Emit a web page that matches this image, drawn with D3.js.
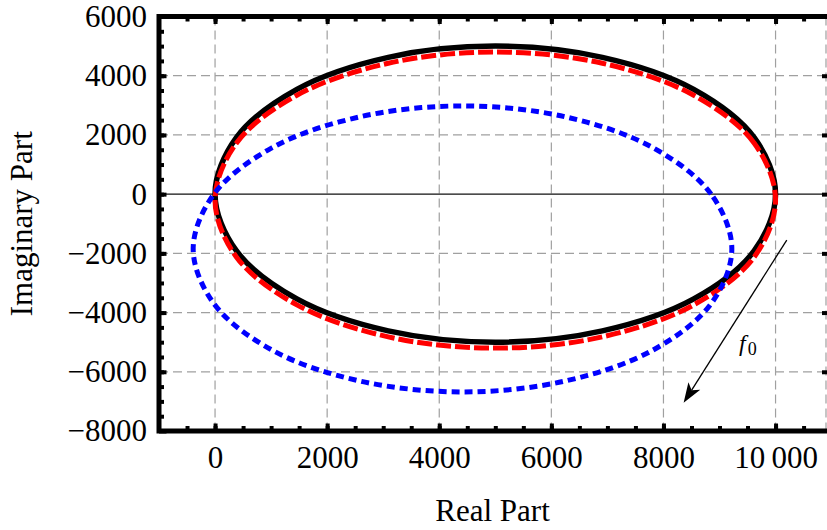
<!DOCTYPE html>
<html>
<head>
<meta charset="utf-8">
<script src="https://cdn.jsdelivr.net/npm/d3@7"></script>
<style>
  body { margin: 0; background: #fff; }
  svg { display: block; font-family: "Liberation Serif", "Times New Roman", serif; }
</style>
</head>
<body>
<svg id="chart" width="827" height="530"></svg>
<script>
// values, 16 points round each closed curve
const blackRe = [10000, 9620, 8540, 6910, 5000, 3090, 1460, 380, 0, 380, 1460, 3090, 5000, 6910, 8540, 9620];
const blackIm = [0, 1910, 3540, 4620, 5000, 4620, 3540, 1910, 0, -1910, -3540, -4620, -5000, -4620, -3540, -1910];

const redRe = [10000, 9620, 8540, 6910, 5000, 3090, 1460, 380, 0, 380, 1460, 3090, 5000, 6910, 8540, 9620];
const redIm = [-200, 1720, 3340, 4420, 4800, 4420, 3340, 1720, -200, -2120, -3740, -4820, -5200, -4820, -3740, -2120];

const blueRe = [9220, 8850, 7810, 6250, 4420, 2580, 1020, -20, -390, -20, 1020, 2580, 4420, 6250, 7810, 8850];
const blueIm = [-1850, 0, 1570, 2610, 2980, 2610, 1570, 0, -1850, -3700, -5270, -6310, -6680, -6310, -5270, -3700];

const xTicks = [0, 2000, 4000, 6000, 8000, 10000];
const yTicks = [-8000, -6000, -4000, -2000, 0, 2000, 4000, 6000];
const xMinor = d3.range(-500, 10900, 500);
const yMinor = d3.range(-7500, 6000, 500);
const xGrid = [0, 2000, 4000, 6000, 8000, 10000, 10900];
const yGrid = [-6000, -4000, -2000, 2000, 4000];

const arrowFrom = [10200, -1550];
const arrowTo = [8360, -7050];

const svg = d3.select("#chart");
const pLeft = 159, pRight = 826, pTop = 16.5, pBottom = 431;
const frameW = 5;

const x = d3.scaleLinear().domain([-1000, 10900]).range([pLeft, pRight]);
const y = d3.scaleLinear().domain([-8000, 6000]).range([pBottom, pTop]);

const gridColor = '#a0a0a0';

// grid
svg.append("g").selectAll("line")
  .data(xGrid).enter().append("line")
  .attr("x1", d => x(d)).attr("x2", d => x(d))
  .attr("y1", pTop).attr("y2", pBottom)
  .attr("stroke", gridColor).attr("stroke-width", 1.2)
  .attr("stroke-dasharray", "9,5");

svg.append("g").selectAll("line")
  .data(yGrid).enter().append("line")
  .attr("x1", pLeft).attr("x2", pRight)
  .attr("y1", d => y(d)).attr("y2", d => y(d))
  .attr("stroke", gridColor).attr("stroke-width", 1.2)
  .attr("stroke-dasharray", "9,5");

// zero axis
svg.append("line")
  .attr("x1", pLeft).attr("x2", pRight + 3)
  .attr("y1", y(0)).attr("y2", y(0))
  .attr("stroke", "#111").attr("stroke-width", 1.1);

const pts = (re, im) => re.map((r, i) => [r, im[i]]);
const line = d3.line()
  .x(d => x(d[0]))
  .y(d => y(d[1]))
  .curve(d3.curveCatmullRomClosed.alpha(0.5));

svg.append("path")
  .datum(pts(blackRe, blackIm))
  .attr("d", line)
  .attr("fill", "none")
  .attr("stroke", "#000")
  .attr("stroke-width", 5.5);

svg.append("path")
  .datum(pts(redRe, redIm))
  .attr("d", line)
  .attr("fill", "none")
  .attr("stroke", "#ff0000")
  .attr("stroke-width", 5)
  .attr("stroke-dasharray", "15,4");

svg.append("path")
  .datum(pts(blueRe, blueIm))
  .attr("d", line)
  .attr("fill", "none")
  .attr("stroke", "#0000ff")
  .attr("stroke-width", 5)
  .attr("stroke-dasharray", "8,5");

// arrow f0
const ax0 = x(arrowFrom[0]), ay0 = y(arrowFrom[1]);
const ax1 = x(arrowTo[0]), ay1 = y(arrowTo[1]);
const ang = Math.atan2(ay1 - ay0, ax1 - ax0);
const headLen = 20, headHalf = 7, notch = 5;
const ux = Math.cos(ang), uy = Math.sin(ang);
const bx = ax1 - ux * headLen, by = ay1 - uy * headLen;

svg.append("line")
  .attr("x1", ax0).attr("y1", ay0)
  .attr("x2", ax1 - ux * (headLen - notch)).attr("y2", ay1 - uy * (headLen - notch))
  .attr("stroke", "#000").attr("stroke-width", 1.3);

svg.append("path")
  .attr("d", `M${ax1},${ay1} L${bx - uy * headHalf},${by + ux * headHalf} L${ax1 - ux * (headLen - notch)},${ay1 - uy * (headLen - notch)} L${bx + uy * headHalf},${by - ux * headHalf} Z`)
  .attr("fill", "#000");

const lab = svg.append("text")
  .attr("x", 739).attr("y", 351)
  .style("font-size", "24px");
lab.append("tspan").style("font-style", "italic").text("f");
lab.append("tspan").attr("dx", 2).attr("dy", 4).style("font-size", "18px").text("0");

// ticks pointing into the frame
const tickStyle = g => g.call(s => s.select(".domain").remove())
  .selectAll(".tick line").attr("stroke", "#000").attr("stroke-width", 4);

const half = frameW / 2;
svg.append("g").attr("transform", `translate(0,${pBottom})`)
  .call(d3.axisTop(x).tickValues(xMinor).tickSize(half + 2.5).tickFormat(""))
  .call(tickStyle);
svg.append("g").attr("transform", `translate(0,${pBottom})`)
  .call(d3.axisTop(x).tickValues(xTicks).tickSize(half + 5).tickFormat(""))
  .call(tickStyle);
svg.append("g").attr("transform", `translate(0,${pTop})`)
  .call(d3.axisBottom(x).tickValues(xMinor).tickSize(half + 2.5).tickFormat(""))
  .call(tickStyle);
svg.append("g").attr("transform", `translate(0,${pTop})`)
  .call(d3.axisBottom(x).tickValues(xTicks).tickSize(half + 5).tickFormat(""))
  .call(tickStyle);
svg.append("g").attr("transform", `translate(${pLeft},0)`)
  .call(d3.axisRight(y).tickValues(yMinor).tickSize(half + 2.5).tickFormat(""))
  .call(tickStyle);
svg.append("g").attr("transform", `translate(${pLeft},0)`)
  .call(d3.axisRight(y).tickValues(yTicks).tickSize(half + 5).tickFormat(""))
  .call(tickStyle);
svg.append("g").attr("transform", `translate(${pRight + 4},0)`)
  .call(d3.axisLeft(y).tickValues(yTicks.slice(1, -1)).tickSize(8).tickFormat(""))
  .call(tickStyle);

// frame (right side is cut by the picture edge)
svg.append("path")
  .attr("d", `M${pRight + 10},${pTop} H${pLeft} V${pBottom} H${pRight + 10}`)
  .attr("fill", "none")
  .attr("stroke", "#000")
  .attr("stroke-width", frameW)
  .attr("stroke-linecap", "square");

// labels
const fmtX = d => d >= 10000 ? d3.format(",")(d).replace(",", "\u2009") : String(d);
const fmtY = d => (d < 0 ? "\u2212" : "") + Math.abs(d);

const xAxis = svg.append("g").attr("transform", `translate(0,${pBottom})`)
  .call(d3.axisBottom(x).tickValues(xTicks).tickSize(0).tickPadding(15).tickFormat(fmtX));
xAxis.select(".domain").remove();
xAxis.selectAll("text").attr("fill", "#000").style("font-size", "31px")
  .style("font-family", '"Liberation Serif", serif');

const yAxis = svg.append("g").attr("transform", `translate(${pLeft},0)`)
  .call(d3.axisLeft(y).tickValues(yTicks).tickSize(0).tickPadding(12).tickFormat(fmtY));
yAxis.select(".domain").remove();
yAxis.selectAll("text").attr("fill", "#000").style("font-size", "31px")
  .style("font-family", '"Liberation Serif", serif');

svg.append("text")
  .attr("x", (pLeft + pRight) / 2)
  .attr("y", 521)
  .attr("text-anchor", "middle")
  .style("font-size", "31px")
  .text("Real Part");

svg.append("text")
  .attr("transform", `translate(32,${(pTop + pBottom) / 2}) rotate(-90)`)
  .attr("text-anchor", "middle")
  .style("font-size", "31px")
  .text("Imaginary Part");
</script>
</body>
</html>
